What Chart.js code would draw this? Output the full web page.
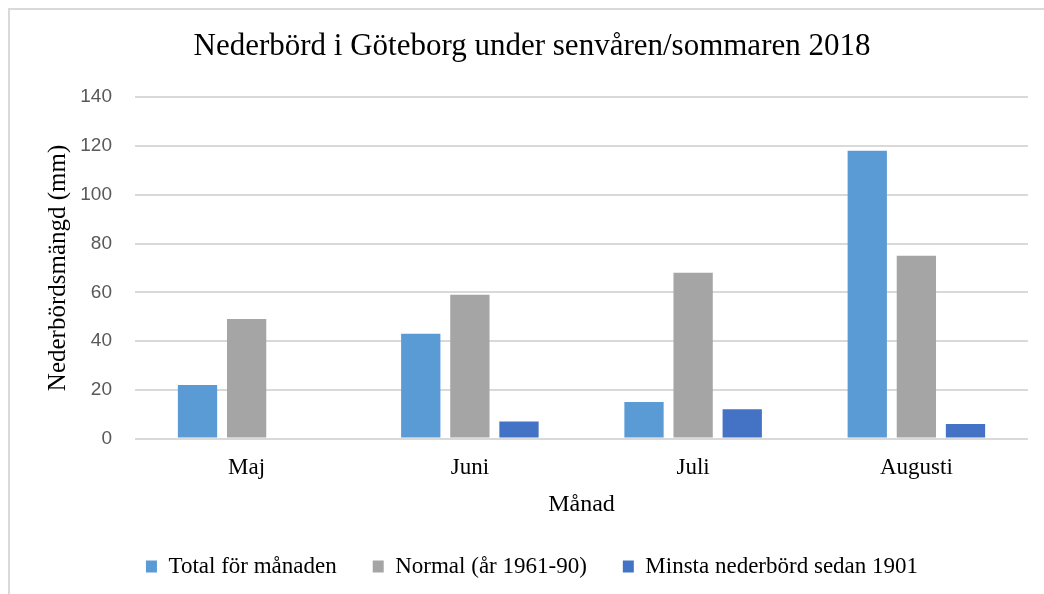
<!DOCTYPE html>
<html>
<head>
<meta charset="utf-8">
<script src="https://cdn.jsdelivr.net/npm/chart.js@4"></script>
<style>
    body { margin: 0; background: #fff; overflow: hidden; }
    #frame { position: absolute; left: 8px; top: 8px; width: 1100px; height: 700px; border: 2px solid #d9d9d9; }
    #wrap { position: absolute; left: 0; top: 0; width: 1044px; height: 594px; }
</style>
</head>
<body>
<div id="frame"></div>
<div id="wrap"><canvas id="chart"></canvas></div>
<script>
let months = ["Maj", "Juni", "Juli", "Augusti"];
let total = [22, 43, 15, 118];
let normal = [49, 59, 68, 75];
let minsta = [null, 7, 12, 6];

let serif = "'Liberation Serif', 'Times New Roman', serif";
let sans = "'Liberation Sans', Arial, sans-serif";

let ctx = document.getElementById("chart");

new Chart(ctx, {
    type: "bar",
    data: {
        labels: months,
        datasets: [
            { label: "Total för månaden", data: total, backgroundColor: "#5b9bd5" },
            { label: "Normal (år 1961-90)", data: normal, backgroundColor: "#a5a5a5" },
            { label: "Minsta nederbörd sedan 1901", data: minsta, backgroundColor: "#4472c4" }
        ]
    },
    options: {
        responsive: true,
        maintainAspectRatio: false,
        animation: false,
        categoryPercentage: 0.66,
        barPercentage: 0.8,
        layout: { padding: { left: 36, right: 16, top: 28, bottom: 6 } },
        plugins: {
            title: {
                display: true,
                text: "Nederbörd i Göteborg under senvåren/sommaren 2018",
                color: "#000",
                font: { family: serif, size: 31, weight: "normal" },
                padding: { top: 0, bottom: 32 }
            },
            legend: {
                position: "bottom",
                labels: {
                    color: "#000",
                    font: { family: serif, size: 23 },
                    boxWidth: 11,
                    boxHeight: 12,
                    padding: 36
                }
            },
            tooltip: { enabled: false }
        },
        scales: {
            x: {
                grid: { display: false },
                border: { display: false },
                ticks: { color: "#000", font: { family: serif, size: 23 }, padding: 8 },
                title: {
                    display: true,
                    text: "Månad",
                    color: "#000",
                    font: { family: serif, size: 24 },
                    padding: { top: 0, bottom: 0 }
                }
            },
            y: {
                min: 0,
                max: 140,
                // fixed width so the plot starts where the reference does
                afterFit: (scale) => { scale.width = 99; },
                ticks: { stepSize: 20, color: "#595959", font: { family: sans, size: 19 }, padding: 23 },
                grid: { color: "#d9d9d9", lineWidth: 2, drawTicks: false },
                border: { display: false },
                title: {
                    display: true,
                    text: "Nederbördsmängd (mm)",
                    color: "#000",
                    font: { family: serif, size: 25 },
                    padding: { top: 7, bottom: 0 }
                }
            }
        }
    }
});
</script>
</body>
</html>
